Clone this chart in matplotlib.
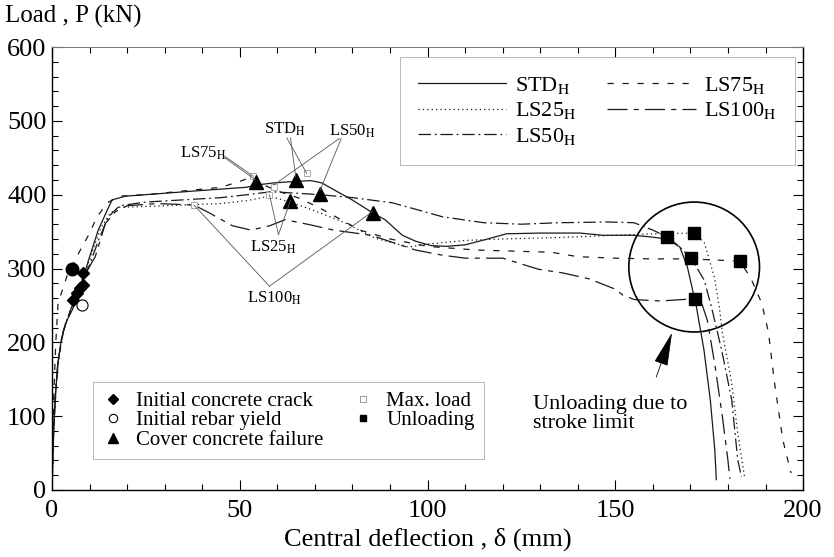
import matplotlib
matplotlib.use("Agg")
import matplotlib.pyplot as plt
from matplotlib.lines import Line2D
from matplotlib.patches import Ellipse
from matplotlib.ticker import MultipleLocator

plt.rcParams["font.family"] = ["Liberation Serif", "DejaVu Serif"]
plt.rcParams["mathtext.fontset"] = "stix"

# load-deflection curves (deflection mm, load kN)
std_x = [0, 0.3, 0.8, 1.5, 2.5, 3.8, 5.4, 7.2, 9.7, 12.3, 14.7, 16, 19.6, 27.6, 38, 51.7, 54.2,
         59.2, 64.9, 69, 71.8, 75.3, 79.9, 85.5, 88.7, 93.3, 96.8, 101, 105, 110, 116, 121, 130,
         140.6, 146.7, 154.7, 159, 163.8, 167.2, 169.2, 171.6, 173.6, 175.3, 176.5, 176.9]
std_y = [0, 60, 120, 170, 205, 228, 244, 268, 311, 352, 379, 393, 398, 401, 405, 410, 413,
         416, 418, 419, 416, 406, 393, 375, 366, 345, 337, 331, 330, 332, 340, 347, 348,
         348, 345, 345, 343, 340, 329, 302, 248, 190, 122, 54, 14]

ls25_x = [0, 0.4, 1, 2, 3.5, 5.5, 8, 10.5, 13, 15.5, 18, 25, 35, 45, 52, 57.9, 63.5, 70, 78, 86,
          95, 100, 110, 120, 135, 150, 160, 171, 173.7, 176.4, 177.7, 178.5, 181, 182.6, 184.4]
ls25_y = [0, 80, 140, 190, 225, 250, 280, 320, 355, 375, 383, 384, 386, 388, 392, 398, 390, 378,
          362, 341, 329, 333, 338, 340, 342, 345, 347, 348, 335, 288, 248, 213, 145, 77, 18]

ls50_x = [0, 0.3, 0.9, 1.8, 3, 5, 7.5, 10, 12.5, 15, 18, 25, 35, 45, 52, 58.4, 65, 71.3, 80,
          90.6, 97, 104, 115, 125, 135, 148, 155, 160, 163.8, 167, 170.2, 173.7, 175.6, 178.3,
          181, 182.6, 183.6]
ls50_y = [0, 70, 130, 180, 215, 245, 275, 305, 340, 370, 385, 390, 393, 396, 400, 404, 402, 400,
          396, 389, 380, 370, 362, 360, 362, 363, 362, 352, 343, 330, 314, 284, 248, 190,
          122, 41, 18]

ls75_x = [0, 0.4, 1.0, 1.6, 4, 7, 9.7, 12, 14.7, 18, 25, 35, 45, 50, 53.6, 56, 60, 66, 72, 77,
          82, 90, 100, 113, 133, 140, 150, 160, 170, 183.1, 186.0, 189.0, 190.8, 192.4, 194.6,
          196.8]
ls75_y = [0, 120, 200, 253, 290, 320, 345, 370, 389, 398, 400, 405, 410, 418, 425, 414, 405,
          395, 380, 366, 352, 340, 330, 325, 322, 316, 314, 313, 313, 310, 288, 253, 213, 145,
          68, 23]

ls100_x = [0, 0.5, 1.5, 3, 5, 8, 11.5, 14.2, 16.9, 20, 28, 37.8, 42, 48, 53, 58, 62, 68, 75,
           85, 96.8, 104, 110, 120, 129.5, 136, 143, 150, 152, 155, 162, 168, 171.3, 173,
           174.5, 176.5, 178.5, 180, 180.5]
ls100_y = [0, 90, 170, 215, 245, 285, 316, 361, 377, 385, 388, 386, 375, 358, 352, 358, 366,
           360, 352, 345, 325, 318, 314, 314, 299, 294, 286, 272, 264, 258, 256, 258, 259, 253,
           230, 170, 100, 40, 15]

names = ["STD", "LS25", "LS50", "LS75", "LS100"]
curves = [(std_x, std_y), (ls25_x, ls25_y), (ls50_x, ls50_y), (ls75_x, ls75_y), (ls100_x, ls100_y)]
dashes = ["-", (0, (1, 2.5)), (0, (10, 3, 1.5, 3)), (0, (5, 7)), (0, (16, 5, 4, 5))]

# event markers
crack_x = [5.6, 6.7, 7.5, 8.3, 8.3]
crack_y = [257, 267, 274, 278, 294]
crack_blob = (5.4, 299)
yield_x = [8.0]
yield_y = [251]
cover_x = [54.2, 64.9, 63.5, 71.3, 85.5]
cover_y = [417, 420, 391, 401, 375]
maxload_x = [53.6, 67.8, 57.9, 59.0, 37.8]
maxload_y = [425, 429, 400, 410, 386]
unload_x = [163.8, 171.0, 170.2, 183.1, 171.3]
unload_y = [343, 348, 314, 310, 259]

fig = plt.figure(figsize=(8.34, 5.57), dpi=100)
ax = fig.add_axes([0.0624, 0.1203, 0.9005, 0.7953])

handles = []
for name, (cx, cy), ls in zip(names, curves, dashes):
    h, = ax.plot(cx, cy, color="#1a1a1a", lw=0.9, ls=ls, label=name + r"$_{\rm H}$")
    handles.append(h)

ax.plot(maxload_x, maxload_y, ls="none", marker="s", ms=4, mfc="white", mec="#aaaaaa", mew=0.7)
ax.plot(crack_x, crack_y, ls="none", marker="D", ms=6, color="black")
ax.plot([crack_blob[0]], [crack_blob[1]], ls="none", marker="o", ms=9, color="black")
ax.plot(yield_x, yield_y, ls="none", marker="o", ms=8, mfc="white", mec="black", mew=0.8)
ax.plot(cover_x, cover_y, ls="none", marker="^", ms=10, color="black")
ax.plot(unload_x, unload_y, ls="none", marker="s", ms=8, color="black")

# annotation leader lines
ann = [
    ("LS75", (40.2, 456), [(46, 452), (46, 450)], [(53.6, 425), (54.2, 420)]),
    ("STD", (62.0, 488), [(62.5, 477), (63.5, 477)], [(67.8, 429), (64.9, 424)]),
    ("LS50", (80.0, 486), [(76.5, 476), (77.0, 476)], [(59.0, 413), (71.3, 405)]),
    ("LS25", (59.0, 329), [(60.3, 346), (60.3, 346)], [(57.9, 400), (63.5, 392)]),
    ("LS100", (59.2, 260), [(57.9, 276), (57.9, 276)], [(37.8, 386), (85.3, 377)]),
]
for name, (tx, ty), starts, ends in ann:
    ax.text(tx, ty, name + r"$_{\rm H}$", fontsize=12, ha="center", va="center")
    for (sx, sy), (ex, ey) in zip(starts, ends):
        ax.plot([sx, ex], [sy, ey], color="#555555", lw=0.6)

ax.add_patch(Ellipse((171, 302), width=34.8, height=176, fill=False, lw=1.2, color="black"))
ax.annotate("", xy=(165.1, 213), xytext=(160.9, 153),
            arrowprops=dict(arrowstyle="-|>,head_length=1.2,head_width=0.25", lw=0.6,
                            color="black", mutation_scale=18, shrinkA=0, shrinkB=0))
ax.text(128.2, 103, "Unloading due to\nstroke limit", fontsize=16, ha="left", va="center",
        linespacing=0.95)

ax.set_xlim(0, 200)
ax.set_ylim(0, 600)
ax.xaxis.set_major_locator(MultipleLocator(50))
ax.xaxis.set_minor_locator(MultipleLocator(10))
ax.yaxis.set_major_locator(MultipleLocator(100))
ax.yaxis.set_minor_locator(MultipleLocator(20))
ax.tick_params(which="both", direction="in", top=True, right=True, labelsize=19, width=0.8)
ax.tick_params(which="major", length=7)
ax.tick_params(which="minor", length=4)
ax.tick_params(axis="x", pad=7)
ax.tick_params(axis="y", pad=4)
for side in ["left", "bottom", "right"]:
    ax.spines[side].set_linewidth(1.0)
ax.spines["top"].set_color("#777777")
ax.spines["top"].set_linewidth(0.7)

ax.set_xlabel("Central deflection , \u03b4 (mm)", fontsize=19, labelpad=4)
fig.text(0.006, 0.97, "Load , P (kN)", fontsize=18, ha="left", va="center")

leg1 = ax.legend(handles=handles, ncol=2, loc="upper left", bbox_to_anchor=(0.463, 0.977, 0.526, 0.0),
                 mode="expand", borderaxespad=0, frameon=True, fancybox=False,
                 edgecolor="#999999", fontsize=16, handlelength=4.0, labelspacing=0.2,
                 borderpad=0.8, columnspacing=2.0, handletextpad=0.4)
leg1.get_frame().set_linewidth(0.6)
ax.add_artist(leg1)

ev_handles = [
    Line2D([], [], ls="none", marker="D", ms=5, color="black"),
    Line2D([], [], ls="none", marker="o", ms=6, mfc="white", mec="black", mew=0.8),
    Line2D([], [], ls="none", marker="^", ms=7, color="black"),
    Line2D([], [], ls="none", marker="s", ms=4, mfc="white", mec="#999999", mew=0.7),
    Line2D([], [], ls="none", marker="s", ms=5, color="black"),
]
ev_labels = ["Initial concrete crack", "Initial rebar yield", "Cover concrete failure",
             "Max. load", "Unloading"]
leg2 = ax.legend(ev_handles, ev_labels, ncol=2, loc="upper left",
                 bbox_to_anchor=(0.055, 0.244, 0.52, 0.0), mode="expand", borderaxespad=0,
                 frameon=True, fancybox=False, edgecolor="#999999", fontsize=15,
                 handlelength=1.0, labelspacing=0.0, borderpad=0.45, columnspacing=1.5,
                 handletextpad=0.6)
leg2.get_frame().set_linewidth(0.6)

fig.savefig("out.png", dpi=100)
